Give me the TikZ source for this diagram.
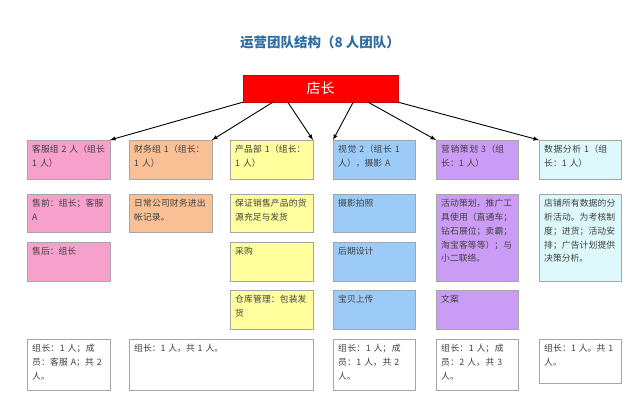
\documentclass[tikz,border=0pt]{standalone}
\usepackage{fontspec}
\setmainfont{Noto Sans CJK SC}
\XeTeXlinebreaklocale "zh"
\XeTeXlinebreakskip=0pt plus 1pt
\begin{document}
\begin{tikzpicture}[x=1pt,y=-1pt,
  box/.style={draw=gray!70,line width=0.6pt},
  lbl/.style={anchor=north west,align=left,inner sep=0pt,
    font=\fontsize{8.8}{13.8}\selectfont,text=black!75},
  arr/.style={-latex,line width=0.9pt,black}]
\useasboundingbox (0,0) rectangle (640,400);
\definecolor{pk}{HTML}{F7A0CB}\definecolor{og}{HTML}{F9C096}\definecolor{yl}{HTML}{FFFF9E}
\definecolor{bl}{HTML}{9DCBF7}\definecolor{pu}{HTML}{CB9CF5}\definecolor{cy}{HTML}{DDF8FA}
\node (t) at (320,42) {\fontsize{13.5}{15}\selectfont\bfseries\color[HTML]{2E6DA4}运营团队结构（8 人团队）};
\node[draw=red!80!black,fill=red,minimum width=155pt,minimum height=27pt,font=\fontsize{14}{15}\selectfont,text=white] (boss) at (320.5,88.5) {店长};
\newcommand{\cel}[7]{%
  \draw[box,fill=#6] (#2,#3) rectangle ++(#4,#5) coordinate (#1se);
  \coordinate (#1nw) at (#2,#3);
  \path (#2,#3) ++(#4,0) coordinate (#1ne);
  \node[lbl,text width=#4pt-9pt] (#1) at (#2+5,#3+5) {#7};}
\cel{a1}{27}{140}{83}{39}{pk}{客服组 2 人（组长 1 人）}
\cel{a2}{27}{194}{83}{38}{pk}{售前：组长；客服 A}
\cel{a3}{27}{242}{83}{39}{pk}{售后：组长}
\cel{a5}{27}{339}{83}{51}{white}{组长：1 人；成员：客服 A；共 2 人。}
\cel{b1}{129}{140}{83}{39}{og}{财务组 1（组长：1 人）}
\cel{b2}{129}{194}{83}{38}{og}{日常公司财务进出帐记录。}
\cel{b5}{129}{339}{184}{51}{white}{组长：1 人，共 1 人。}
\cel{c1}{230}{140}{83}{39}{yl}{产品部 1（组长：1 人）}
\cel{c2}{230}{194}{83}{38}{yl}{保证销售产品的货源充足与发货}
\cel{c3}{230}{242}{83}{39}{yl}{采购}
\cel{c4}{230}{290}{83}{39}{yl}{仓库管理：包装发货}
\cel{d1}{333}{140}{82}{39}{bl}{视觉 2（组长 1 人），摄影 A}
\cel{d2}{333}{194}{82}{38}{bl}{摄影拍照}
\cel{d3}{333}{242}{82}{39}{bl}{后期设计}
\cel{d4}{333}{290}{82}{39}{bl}{宝贝上传}
\cel{d5}{333}{339}{82}{51}{white}{组长：1 人；成员：1 人，共 2 人。}
\cel{e1}{436}{140}{82}{39}{pu}{营销策划 3（组长：1 人）}
\cel{e2}{436}{194}{82}{87}{pu}{活动策划，推广工具使用（直通车；钻石展位；卖霸；淘宝客等等）；与小二联络。}
\cel{e4}{436}{290}{82}{39}{pu}{文案}
\cel{e5}{436}{339}{82}{51}{white}{组长：1 人；成员：2 人，共 3 人。}
\cel{f1}{539}{140}{82}{39}{cy}{数据分析 1（组长：1 人）}
\cel{f2}{539}{194}{82}{87}{cy}{店铺所有数据的分析活动。为考核制度；进货；活动安排；广告计划提供决策分析。}
\cel{f5}{539}{339}{82}{44}{white}{组长：1 人。共 1 人。}
\draw[arr] (boss.south west) -- (a1ne);
\draw[arr] ([xshift=30pt]boss.south west) -- (b1ne);
\draw[arr] ([xshift=45pt]boss.south west) -- (c1ne);
\draw[arr] ([xshift=-45pt]boss.south east) -- (d1nw);
\draw[arr] ([xshift=-30pt]boss.south east) -- (e1nw);
\draw[arr] (boss.south east) -- (f1nw);
\end{tikzpicture}
\end{document}
